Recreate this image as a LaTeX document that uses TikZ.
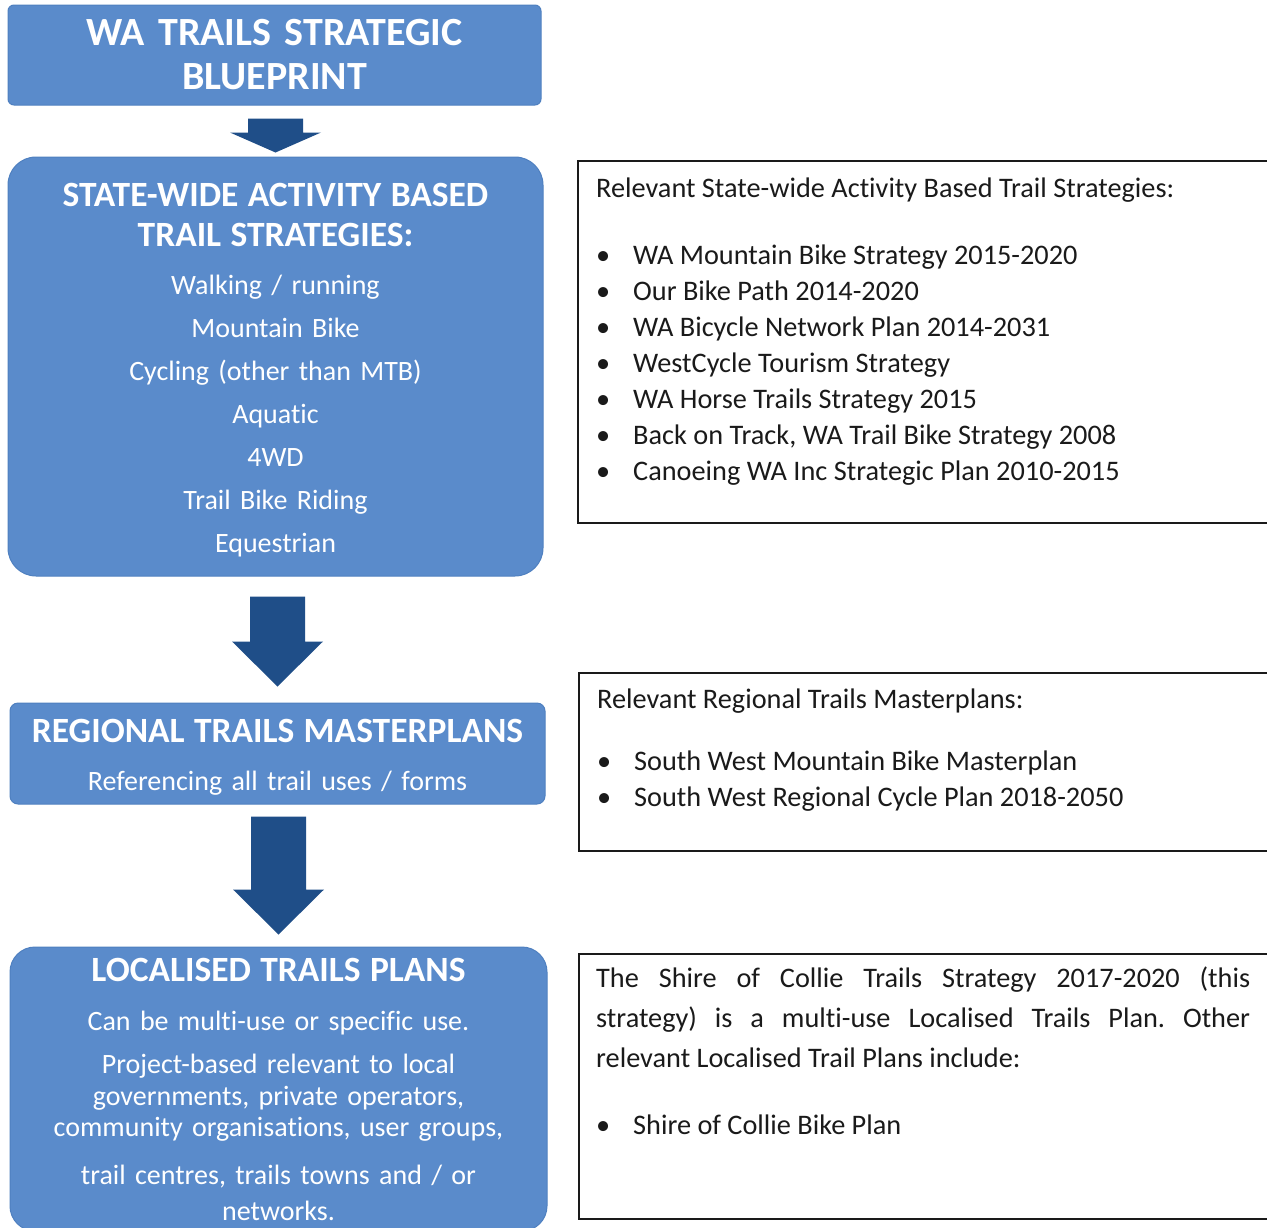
\documentclass[tikz,border=0pt]{standalone}
\usepackage{fontspec}
\setmainfont{Carlito}[Ligatures=NoCommon]
\usepackage{tikz}
\usetikzlibrary{calc, positioning}
\definecolor{Sky}{HTML}{5A8BCB}
\definecolor{SkyEdge}{HTML}{4F80C0}
\definecolor{Navy}{HTML}{1F4E88}
\definecolor{Ink}{HTML}{1A1A1A}

\newcommand{\boxtitle}{\bfseries\fontsize{35.5}{40}\selectfont}
\newcommand{\refitem}[1]{\makebox[37pt][l]{\textbullet}#1}
% block arrow: shaft starts at #1, tip at #2, head length #3
\newcommand{\flowarrow}[3]{%
  \path (#2 |- #1) coordinate (shaft);
  \fill[Navy] ($(shaft)+(-27.5,0)$) -- ($(shaft)+(27.5,0)$)
    -- ($(#2)+(27.5,-#3)$) -- ($(#2)+(45.5,-#3)$) -- (#2)
    -- ($(#2)+(-45.5,-#3)$) -- ($(#2)+(-27.5,-#3)$) -- cycle;}

\tikzset{
  stage/.style={draw=SkyEdge, line width=1pt, fill=Sky, text=white,
    text width=525pt, align=center, inner sep=0pt,
    font=\fontsize{28}{32}\selectfont},
  refframe/.style={draw=Ink, line width=1.6pt, anchor=north west, inner sep=0pt},
  reftext/.style={anchor=north west, inner sep=0pt, text width=654pt,
    align=justify, text=Ink, font=\fontsize{28.3}{36}\selectfont},
}

\begin{document}
\frenchspacing
\begin{tikzpicture}[x=1pt, y=-1pt]
  \fill[white] (0,0) rectangle (1267,1227);
  \useasboundingbox (0,0) rectangle (1267,1227);

  % left column
  \node[stage, minimum width=533pt, minimum height=100pt, rounded corners=6pt,
        font=\bfseries\fontsize{40}{44}\selectfont] (blueprint) at (274.5,55)
    {WA TRAILS STRATEGIC\\BLUEPRINT};
  \node[stage, minimum width=535pt, minimum height=419pt, rounded corners=28pt]
    (statewide) at (275.5,366.5)
    {{\boxtitle\rule{0pt}{30.5pt}STATE-WIDE ACTIVITY BASED\\TRAIL STRATEGIES:\par}\vspace{16pt}
     Walking / running\\[11pt]Mountain Bike\\[11pt]Cycling (other than MTB)\\[11pt]
     Aquatic\\[11pt]4WD\\[11pt]Trail Bike Riding\\[11pt]Equestrian};
  \node[stage, minimum width=535pt, minimum height=101pt, rounded corners=8pt]
    (regional) at (277.5,753.5)
    {{\boxtitle\rule{0pt}{30pt}REGIONAL TRAILS MASTERPLANS\par}\vspace{16pt}
     Referencing all trail uses / forms};
  \node[stage, minimum width=537pt, minimum height=284pt, rounded corners=25pt]
    (localised) at (278.5,1089)
    {{\boxtitle LOCALISED TRAILS PLANS\par}\vspace{17pt}
     Can be multi-use or specific use.\\[11pt]
     Project-based relevant to local\\
     governments, private operators,\\[-1pt]
     community organisations, user groups,\\[16pt]
     trail centres, trails towns and / or\\[4pt]
     networks.};

  \path ($(blueprint.south)+(0,13)$) coordinate (a1)
        ($(statewide.north)+(0,-4)$) coordinate (t1)
        ($(statewide.south)+(0,20)$) coordinate (a2)
        ($(regional.north)+(0,-16)$) coordinate (t2)
        ($(regional.south)+(0,12)$) coordinate (a3)
        ($(localised.north)+(0,-12)$) coordinate (t3);
  \flowarrow{a1}{t1}{20}
  \flowarrow{a2}{t2}{45}
  \flowarrow{a3}{t3}{45}

  % right column
  \node[refframe, minimum width=720pt, minimum height=362pt] (stateframe) at (577,160) {};
  \node[reftext] (statelist) at (596,178)
    {Relevant State-wide Activity Based Trail Strategies:\\[31pt]
     \refitem{WA Mountain Bike Strategy 2015-2020}\\
     \refitem{Our Bike Path 2014-2020}\\
     \refitem{WA Bicycle Network Plan 2014-2031}\\
     \refitem{WestCycle Tourism Strategy}\\
     \refitem{WA Horse Trails Strategy 2015}\\
     \refitem{Back on Track, WA Trail Bike Strategy 2008}\\
     \refitem{Canoeing WA Inc Strategic Plan 2010-2015}};

  \node[refframe, minimum width=720pt, minimum height=178pt] (regionframe) at (578,672) {};
  \node[reftext] (regionlist) at (597,689)
    {Relevant Regional Trails Masterplans:\\[26pt]
     \refitem{South West Mountain Bike Masterplan}\\
     \refitem{South West Regional Cycle Plan 2018-2050}};

  \node[refframe, minimum width=720pt, minimum height=265pt] (localframe) at (578,953) {};
  \node[reftext, font=\fontsize{28.3}{40}\selectfont] (locallist) at (596,967)
    {\tolerance=10000
     The Shire of Collie Trails Strategy 2017-2020 (this\linebreak
     strategy) is a multi-use Localised Trails Plan. Other\linebreak
     relevant Localised Trail Plans include:\\[27pt]
     \refitem{Shire of Collie Bike Plan}};
\end{tikzpicture}
\end{document}
